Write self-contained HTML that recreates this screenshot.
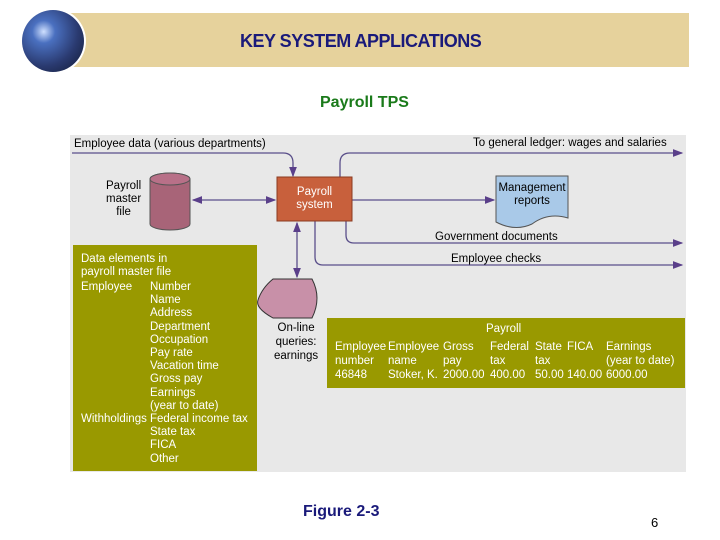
<!DOCTYPE html>
<html><head><style>
body{margin:0;width:720px;height:540px;background:#fff;position:relative;overflow:hidden;font-family:"Liberation Sans",sans-serif}
.t{position:absolute;white-space:nowrap}
</style></head><body>
<div style="position:absolute;left:62px;top:13px;width:627px;height:54px;background:#e6d29c"></div>
<div style="position:absolute;left:20px;top:8px;width:66px;height:66px;border-radius:50%;background:#fff"></div>
<div style="position:absolute;left:22px;top:10px;width:62px;height:62px;border-radius:50%;background:radial-gradient(circle at 35% 35%,#cfe0ff 0,#4a70c0 20%,#2a3a70 60%,#101830 100%)"></div>
<div class="t" style="left:240px;top:31px;font-size:18px;font-weight:bold;color:#1a1a7a;letter-spacing:-0.5px">KEY SYSTEM APPLICATIONS</div>
<div class="t" style="left:320px;top:94px;font-size:16px;font-weight:bold;color:#1a7a1a">Payroll TPS</div>
<div style="position:absolute;left:70px;top:135px;width:616px;height:337px;background:#e8e8e8"></div>
<svg style="position:absolute;left:0;top:0" width="720" height="540">
<defs><marker id="a" markerWidth="8" markerHeight="6" refX="7" refY="3" orient="auto-start-reverse"><path d="M0,0L8,3L0,6z" fill="#5a3f8a"/></marker></defs>
<g fill="none" stroke="#5a4f8a" stroke-width="1.3">
<path d="M72,153H283Q293,153 293,163V176" marker-end="url(#a)"/>
<path d="M340,177V163Q340,153 350,153H682" marker-end="url(#a)"/>
<path d="M352,200H494" marker-end="url(#a)"/>
<path d="M346,221V235Q346,243 354,243H682" marker-end="url(#a)"/>
<path d="M315,221V257Q315,265 323,265H682" marker-end="url(#a)"/>
<path d="M193,200H275" marker-start="url(#a)" marker-end="url(#a)"/>
<path d="M297,223V277" marker-start="url(#a)" marker-end="url(#a)"/>
</g>
<path d="M150,179V224A20,6 0 0 0 190,224V179A20,6 0 0 0 150,179Z" fill="#a86478" stroke="#555"/>
<ellipse cx="170" cy="179" rx="20" ry="6" fill="#b87088" stroke="#555"/>
<rect x="277" y="177" width="75" height="44" fill="#c8603c" stroke="#8a3a20"/>
<path d="M496,176H568V218Q548,212 532,224Q515,232 496,222Z" fill="#a9c9e8" stroke="#555"/>
<path d="M273,279H312Q322,298 312,318H273Q255,308 258,300Q262,288 273,279Z" fill="#c890a8" stroke="#333"/>
</svg>
<div class="t" style="left:74px;top:138px;font-size:11.5px">Employee data (various departments)</div>
<div class="t" style="left:473px;top:137px;font-size:11.5px">To general ledger: wages and salaries</div>
<div class="t" style="left:106px;top:180px;font-size:11.5px;text-align:center;line-height:13px">Payroll<br>master<br>file</div>
<div class="t" style="left:277px;top:186px;width:75px;font-size:11.5px;color:#fff;text-align:center;line-height:13px">Payroll<br>system</div>
<div class="t" style="left:496px;top:182px;width:72px;font-size:11.5px;text-align:center;line-height:13px">Management<br>reports</div>
<div class="t" style="left:435px;top:231px;font-size:11.5px">Government documents</div>
<div class="t" style="left:451px;top:253px;font-size:11.5px">Employee checks</div>
<div class="t" style="left:274px;top:321px;font-size:11.5px;text-align:center;line-height:14px">On-line<br>queries:<br>earnings</div>
<div style="position:absolute;left:73px;top:245px;width:184px;height:226px;background:#999900"></div>
<div class="t" style="left:81px;top:253px;font-size:11.5px;color:#fff;line-height:13.2px">Data elements in<br>payroll master file</div>
<div class="t" style="left:81px;top:281px;font-size:11.5px;color:#fff">Employee</div>
<div class="t" style="left:150px;top:281px;font-size:11.5px;color:#fff;line-height:13.2px">Number<br>Name<br>Address<br>Department<br>Occupation<br>Pay rate<br>Vacation time<br>Gross pay<br>Earnings<br>(year to date)<br>Federal income tax<br>State tax<br>FICA<br>Other</div>
<div class="t" style="left:81px;top:413px;font-size:11.5px;color:#fff">Withholdings</div>
<div style="position:absolute;left:327px;top:318px;width:358px;height:70px;background:#999900"></div>
<div class="t" style="left:486px;top:323px;font-size:11.5px;color:#fff">Payroll</div>
<div class="t" style="left:335px;top:340px;font-size:11.5px;color:#fff;line-height:14px">Employee<br>number<br>46848</div>
<div class="t" style="left:388px;top:340px;font-size:11.5px;color:#fff;line-height:14px">Employee<br>name<br>Stoker, K.</div>
<div class="t" style="left:443px;top:340px;font-size:11.5px;color:#fff;line-height:14px">Gross<br>pay<br>2000.00</div>
<div class="t" style="left:490px;top:340px;font-size:11.5px;color:#fff;line-height:14px">Federal<br>tax<br>400.00</div>
<div class="t" style="left:535px;top:340px;font-size:11.5px;color:#fff;line-height:14px">State<br>tax<br>50.00</div>
<div class="t" style="left:567px;top:340px;font-size:11.5px;color:#fff;line-height:14px">FICA<br><br>140.00</div>
<div class="t" style="left:606px;top:340px;font-size:11.5px;color:#fff;line-height:14px">Earnings<br>(year to date)<br>6000.00</div>
<div class="t" style="left:303px;top:503px;font-size:16px;font-weight:bold;color:#1a1a7a">Figure 2-3</div>
<div class="t" style="left:651px;top:515px;font-size:13px">6</div>
</body></html>
